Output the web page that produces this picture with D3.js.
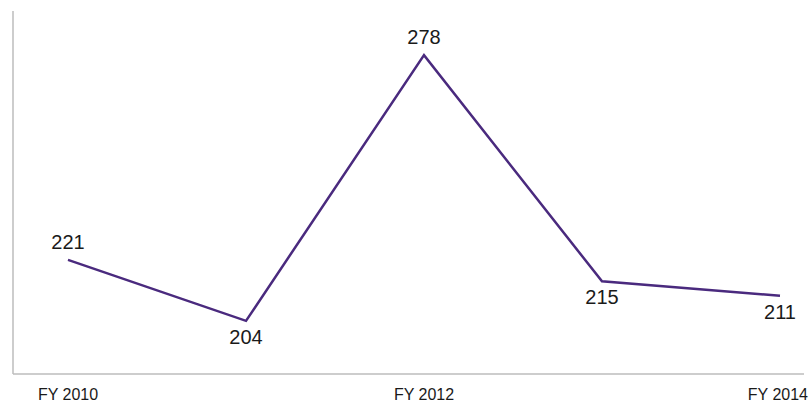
<!DOCTYPE html>
<html>
<head>
<meta charset="utf-8">
<script src="https://cdn.jsdelivr.net/npm/d3@7"></script>
<style>
  html, body { margin: 0; padding: 0; background: #fff; }
  svg { display: block; font-family: 'Liberation Sans', Arial, sans-serif; }
</style>
</head>
<body>
<div id="chart"></div>
<script>
const years= ['FY 2010', 'FY 2011', 'FY 2012', 'FY 2013', 'FY 2014'];
const values= [221, 204, 278, 215, 211];
const labelSide= ['above', 'below', 'above', 'below', 'below'];
const tickLabels= ['FY 2010', 'FY 2012', 'FY 2014'];

const W= 809, H= 403;
const axisLeft= 13, axisRight= 804, axisTop= 11, axisBottom= 374;

const svg= d3.select('#chart').append('svg')
  .attr('width', W).attr('height', H);

const x= d3.scalePoint().domain(years).range([68, 780]);
const y= d3.scaleLinear().domain([189.2, 290.3]).range([axisBottom, axisTop]);

// axes: plain gray lines, no ticks
svg.append('line')
  .attr('x1', axisLeft).attr('x2', axisLeft)
  .attr('y1', axisTop).attr('y2', axisBottom)
  .attr('stroke', '#bdbdbd').attr('stroke-width', 1.5);

svg.append('line')
  .attr('x1', axisLeft).attr('x2', axisRight)
  .attr('y1', axisBottom).attr('y2', axisBottom)
  .attr('stroke', '#bdbdbd').attr('stroke-width', 1.5);

const data= years.map((yr, i) => ({ yr, v: values[i], side: labelSide[i] }));

svg.append('path')
  .datum(data)
  .attr('fill', 'none')
  .attr('stroke', '#4a2a7e')
  .attr('stroke-width', 2.5)
  .attr('stroke-linejoin', 'miter')
  .attr('d', d3.line().x(d => x(d.yr)).y(d => y(d.v)));

svg.selectAll('text.val')
  .data(data)
  .join('text')
  .attr('class', 'val')
  .attr('x', d => x(d.yr))
  .attr('y', d => y(d.v)+(d.side === 'above' ? -11 : 23))
  .attr('text-anchor', 'middle')
  .attr('font-size', 20)
  .attr('fill', '#1a1a1a')
  .text(d => d.v);

svg.selectAll('text.tick')
  .data(tickLabels)
  .join('text')
  .attr('class', 'tick')
  .attr('y', 400)
  .attr('font-size', 16)
  .attr('fill', '#1a1a1a')
  .text(d => d)
  .each(function(d) {
    const el= d3.select(this);
    const w= this.getComputedTextLength();
    const cx= Math.min(x(d), W-1-w/2);
    el.attr('x', cx).attr('text-anchor', 'middle');
  });
</script>
</body>
</html>
